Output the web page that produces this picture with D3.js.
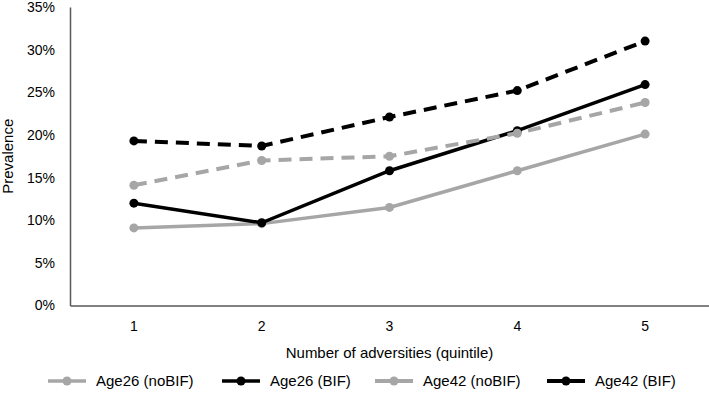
<!DOCTYPE html>
<html><head><meta charset="utf-8">
<script src="https://cdn.jsdelivr.net/npm/d3@7"></script>
<style>body{margin:0;background:#fff}svg{display:block;font-family:"Liberation Sans",Arial,sans-serif}</style>
</head><body><svg id="c" width="709" height="406"></svg>
<script>
const categories = ["1","2","3","4","5"];
const yTicks = [0,5,10,15,20,25,30,35];
const age26NoBIF = [9.1, 9.6, 11.5, 15.8, 20.1];
const age26BIF   = [12.0, 9.7, 15.8, 20.5, 25.9];
const age42NoBIF = [14.1, 17.0, 17.5, 20.2, 23.8];
const age42BIF   = [19.3, 18.7, 22.1, 25.2, 31.0];
const seriesNames = ["Age26 (noBIF)","Age26 (BIF)","Age42 (noBIF)","Age42 (BIF)"];

const series = [
  {name: seriesNames[0], values: age26NoBIF, color:"#a6a6a6", dash:null, w:3.5},
  {name: seriesNames[1], values: age26BIF, color:"#000000", dash:null, w:3.5},
  {name: seriesNames[2], values: age42NoBIF, color:"#a6a6a6", dash:"13,8", w:4},
  {name: seriesNames[3], values: age42BIF, color:"#000000", dash:"13,8", w:4}
];

const svg = d3.select("#c");
const m = {l:70, r:709, t:7, b:305.5};
const x = d3.scaleBand().domain(categories).range([m.l, m.r]);
const y = d3.scaleLinear().domain([0,35]).range([m.b, m.t]);

// axes
const ya = svg.append("g").attr("transform",`translate(${m.l},0)`)
  .call(d3.axisLeft(y).tickValues(yTicks).tickFormat(d=>d+"%").tickSize(0).tickPadding(15));
ya.select(".domain").attr("stroke","#595959").attr("stroke-width",1.5);
ya.selectAll("text").attr("font-size",14).attr("fill","#000").attr("font-family","Liberation Sans, Arial, sans-serif");

const xa = svg.append("g").attr("transform",`translate(0,${m.b})`)
  .call(d3.axisBottom(x).tickSize(0).tickPadding(16));
xa.select(".domain").attr("stroke","#595959").attr("stroke-width",1.5);
xa.selectAll("text").attr("font-size",14).attr("fill","#000").attr("font-family","Liberation Sans, Arial, sans-serif");

svg.append("text").attr("x",(m.l+m.r)/2).attr("y",358).attr("text-anchor","middle")
  .attr("font-size",15).text("Number of adversities (quintile)");
svg.append("text").attr("transform",`translate(13,${(m.t+m.b)/2}) rotate(-90)`).attr("text-anchor","middle")
  .attr("font-size",15).text("Prevalence");

const line = d3.line().x((d,i)=>x(categories[i])+x.bandwidth()/2).y(d=>y(d));
series.forEach(s=>{
  svg.append("path").attr("d",line(s.values)).attr("fill","none").attr("stroke",s.color)
    .attr("stroke-width",s.w).attr("stroke-dasharray",s.dash);
  svg.selectAll(null).data(s.values).enter().append("circle")
    .attr("cx",(d,i)=>x(categories[i])+x.bandwidth()/2).attr("cy",d=>y(d)).attr("r",4.5).attr("fill",s.color);
});

// legend
const legX = [48, 222, 375, 547];
const lg = svg.append("g");
series.forEach((s,i)=>{
  const g = lg.append("g").attr("transform",`translate(${legX[i]},381)`);
  g.append("line").attr("x1",0).attr("x2",38).attr("y1",0).attr("y2",0).attr("stroke",s.color).attr("stroke-width",s.w);
  g.append("circle").attr("cx",19).attr("cy",0).attr("r",4.5).attr("fill",s.color);
  g.append("text").attr("x",48).attr("y",5).attr("font-size",15).text(s.name);
});
</script></body></html>
